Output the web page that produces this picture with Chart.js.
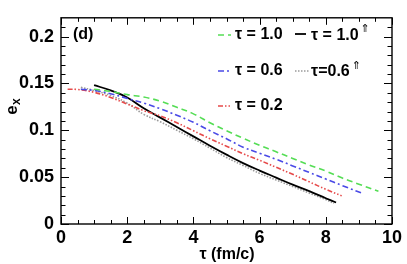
<!DOCTYPE html>
<html><head><meta charset="utf-8">
<script src="https://cdn.jsdelivr.net/npm/chart.js@4.4.0/dist/chart.umd.min.js"></script>
<style>html,body{margin:0;padding:0;background:#fff}#wrap{width:407px;height:264px}</style>
</head><body><div id="wrap"><canvas id="c"></canvas></div>
<script>
// data (tau in fm/c, e_x)
const tauG = [1.0,1.5,2.0,2.5,3.0,3.5,4.0,4.5,5.0,5.5,6.0,6.5,7.0,7.5,8.0,8.5,9.0,9.59];
const exG  = [0.1437,0.1415,0.138,0.1355,0.131,0.1245,0.1175,0.108,0.0995,0.0915,0.084,0.077,0.070,0.063,0.0565,0.049,0.0425,0.035];
const tauB = [0.6,1.0,1.5,2.0,2.5,3.0,3.5,4.0,4.5,5.0,5.5,6.0,6.5,7.0,7.5,8.0,8.5,9.11];
const exB  = [0.1437,0.1425,0.139,0.134,0.129,0.123,0.116,0.1085,0.0995,0.091,0.082,0.0755,0.069,0.062,0.055,0.048,0.041,0.0326];
const tauR = [0.2,0.5,1.0,1.5,2.0,2.5,3.0,3.5,4.0,4.5,5.0,5.5,6.0,6.5,7.0,7.5,8.0,8.48];
const exR  = [0.1437,0.1435,0.1405,0.135,0.128,0.121,0.1153,0.108,0.0995,0.091,0.083,0.075,0.068,0.0605,0.053,0.045,0.037,0.030];
const tauK = [1.0,1.5,2.0,2.5,3.0,3.5,4.0,4.5,5.0,5.5,6.0,6.5,7.0,7.5,8.0,8.31];
const exK  = [0.1482,0.1425,0.135,0.1235,0.1135,0.1035,0.0935,0.0835,0.074,0.065,0.057,0.0495,0.042,0.035,0.0275,0.0229];
const tauP = [0.6,1.0,1.5,2.0,2.5,3.0,3.5,4.0,4.5,5.0,5.5,6.0,6.5,7.0,7.5,8.0,8.25];
const exP  = [0.1458,0.1425,0.137,0.129,0.117,0.109,0.100,0.091,0.081,0.071,0.0625,0.054,0.047,0.040,0.033,0.026,0.022];
const xTicks = [0,2,4,6,8,10];
const xTickLabels = ["0","2","4","6","8","10"];
const yTicks = [0,0.05,0.1,0.15,0.2];
const yTickLabels = ["0","0.05","0.1","0.15","0.2"];
const legendLabels = ["τ = 1.0","τ = 1.0","τ = 0.6","τ=0.6","τ = 0.2"];

const pts = (xs, ys) => xs.map((x,i)=>({x:x, y:ys[i]}));
const F = '"Liberation Sans", Arial, Helvetica, sans-serif';

const frame = {
  id:'frame',
  afterDraw(chart){
    const ctx = chart.ctx, a = chart.chartArea, xs = chart.scales.x, ys = chart.scales.y;
    ctx.save();
    ctx.strokeStyle='#000'; ctx.lineWidth=1.4;
    ctx.strokeRect(a.left, a.top, a.right-a.left, a.bottom-a.top);
    ctx.lineWidth=1;
    ctx.beginPath();
    for(let i=0;i<=20;i++){
      const v=i*0.5, px=Math.round(xs.getPixelForValue(v))+0.5, L=(i%4===0)?7:4;
      ctx.moveTo(px,a.bottom); ctx.lineTo(px,a.bottom-L);
      ctx.moveTo(px,a.top); ctx.lineTo(px,a.top+L);
    }
    for(let i=0;i<=21;i++){
      const v=i*0.01, py=Math.round(ys.getPixelForValue(v))+0.5, L=(i%5===0)?8:4.5;
      ctx.moveTo(a.left,py); ctx.lineTo(a.left+L,py);
      ctx.moveTo(a.right,py); ctx.lineTo(a.right-L,py);
    }
    ctx.stroke();
    // axis titles
    ctx.fillStyle='#000';
    ctx.font='bold 16px '+F; ctx.textAlign='center'; ctx.textBaseline='middle';
    ctx.fillText('τ (fm/c)', 227, 255);
    ctx.save();
    ctx.translate(12,110); ctx.rotate(-Math.PI/2);
    ctx.font='bold 17px '+F; ctx.textAlign='center'; ctx.fillText('e',0,0);
    ctx.font='bold 12px '+F; ctx.textAlign='left'; ctx.fillText('x',5,5);
    ctx.restore();
    ctx.font='bold 16px '+F; ctx.textAlign='left';
    ctx.fillText('(d)', 73, 35);
    // legend
    const ds = chart.data.datasets;
    const seg = (d, x1, x2, y) => {
      ctx.save(); ctx.strokeStyle=d.borderColor; ctx.lineWidth=d.borderWidth;
      ctx.setLineDash(d.borderDash||[]); ctx.beginPath(); ctx.moveTo(x1,y); ctx.lineTo(x2,y); ctx.stroke(); ctx.restore();
    };
    const sup = (x, y) => {
      ctx.save(); ctx.font='11px "DejaVu Sans", sans-serif'; ctx.textAlign='left'; ctx.fillText('⇑', x, y); ctx.restore();
    };
    ctx.font='bold 16px '+F; ctx.textAlign='left'; ctx.textBaseline='middle';
    seg(ds[0],218,231,35); ctx.fillText(legendLabels[0],235,35);
    seg(ds[3],295,306,34); ctx.fillText(legendLabels[1],311,36);
    sup(311+ctx.measureText(legendLabels[1]).width+2, 29);
    seg(ds[1],218,231,71); ctx.fillText(legendLabels[2],235,71);
    seg(ds[4],295,309,71); ctx.fillText(legendLabels[3],311,72);
    sup(311+ctx.measureText(legendLabels[3]).width+2, 66);
    seg(ds[2],218,231,106); ctx.fillText(legendLabels[4],235,106);
    ctx.restore();
  }
};

new Chart(document.getElementById('c'), {
  type:'line',
  data:{datasets:[
    {data:pts(tauG,exG), borderColor:'#55dd55', borderWidth:1.6, borderDash:[6,4]},
    {data:pts(tauB,exB), borderColor:'#4a4ae6', borderWidth:1.6, borderDash:[6,3,2,3]},
    {data:pts(tauR,exR), borderColor:'#e64a4a', borderWidth:1.6, borderDash:[5,2,1.5,2,1.5,2]},
    {data:pts(tauK,exK), borderColor:'#000000', borderWidth:1.8, borderDash:[]},
    {data:pts(tauP,exP), borderColor:'#9a9a9a', borderWidth:1.6, borderDash:[1.5,1.5]}
  ]},
  options:{
    responsive:true, maintainAspectRatio:false, animation:false,
    layout:{padding:{left:0,right:15,top:13,bottom:0}},
    elements:{point:{radius:0}, line:{tension:0.4, fill:false}},
    plugins:{legend:{display:false}, tooltip:{enabled:false}},
    scales:{
      x:{type:'linear', min:0, max:10,
        afterBuildTicks:s=>{s.ticks=xTicks.map(v=>({value:v}));},
        afterFit:s=>{s.height=40;},
        grid:{display:false, drawTicks:false}, border:{display:false},
        ticks:{padding:3, color:'#000', font:{family:F, size:18, weight:'bold'}, maxRotation:0,
          callback:(v)=>{const i=xTicks.indexOf(v); return i>=0?xTickLabels[i]:'';}}},
      y:{type:'linear', min:0, max:0.22,
        afterBuildTicks:s=>{s.ticks=yTicks.map(v=>({value:v}));},
        afterFit:s=>{s.width=61;},
        grid:{display:false, drawTicks:false}, border:{display:false},
        ticks:{padding:7, color:'#000', font:{family:F, size:18, weight:'bold'},
          callback:(v)=>{const i=yTicks.findIndex(t=>Math.abs(t-v)<1e-9); return i>=0?yTickLabels[i]:'';}}}
    }
  },
  plugins:[frame]
});
</script></body></html>
